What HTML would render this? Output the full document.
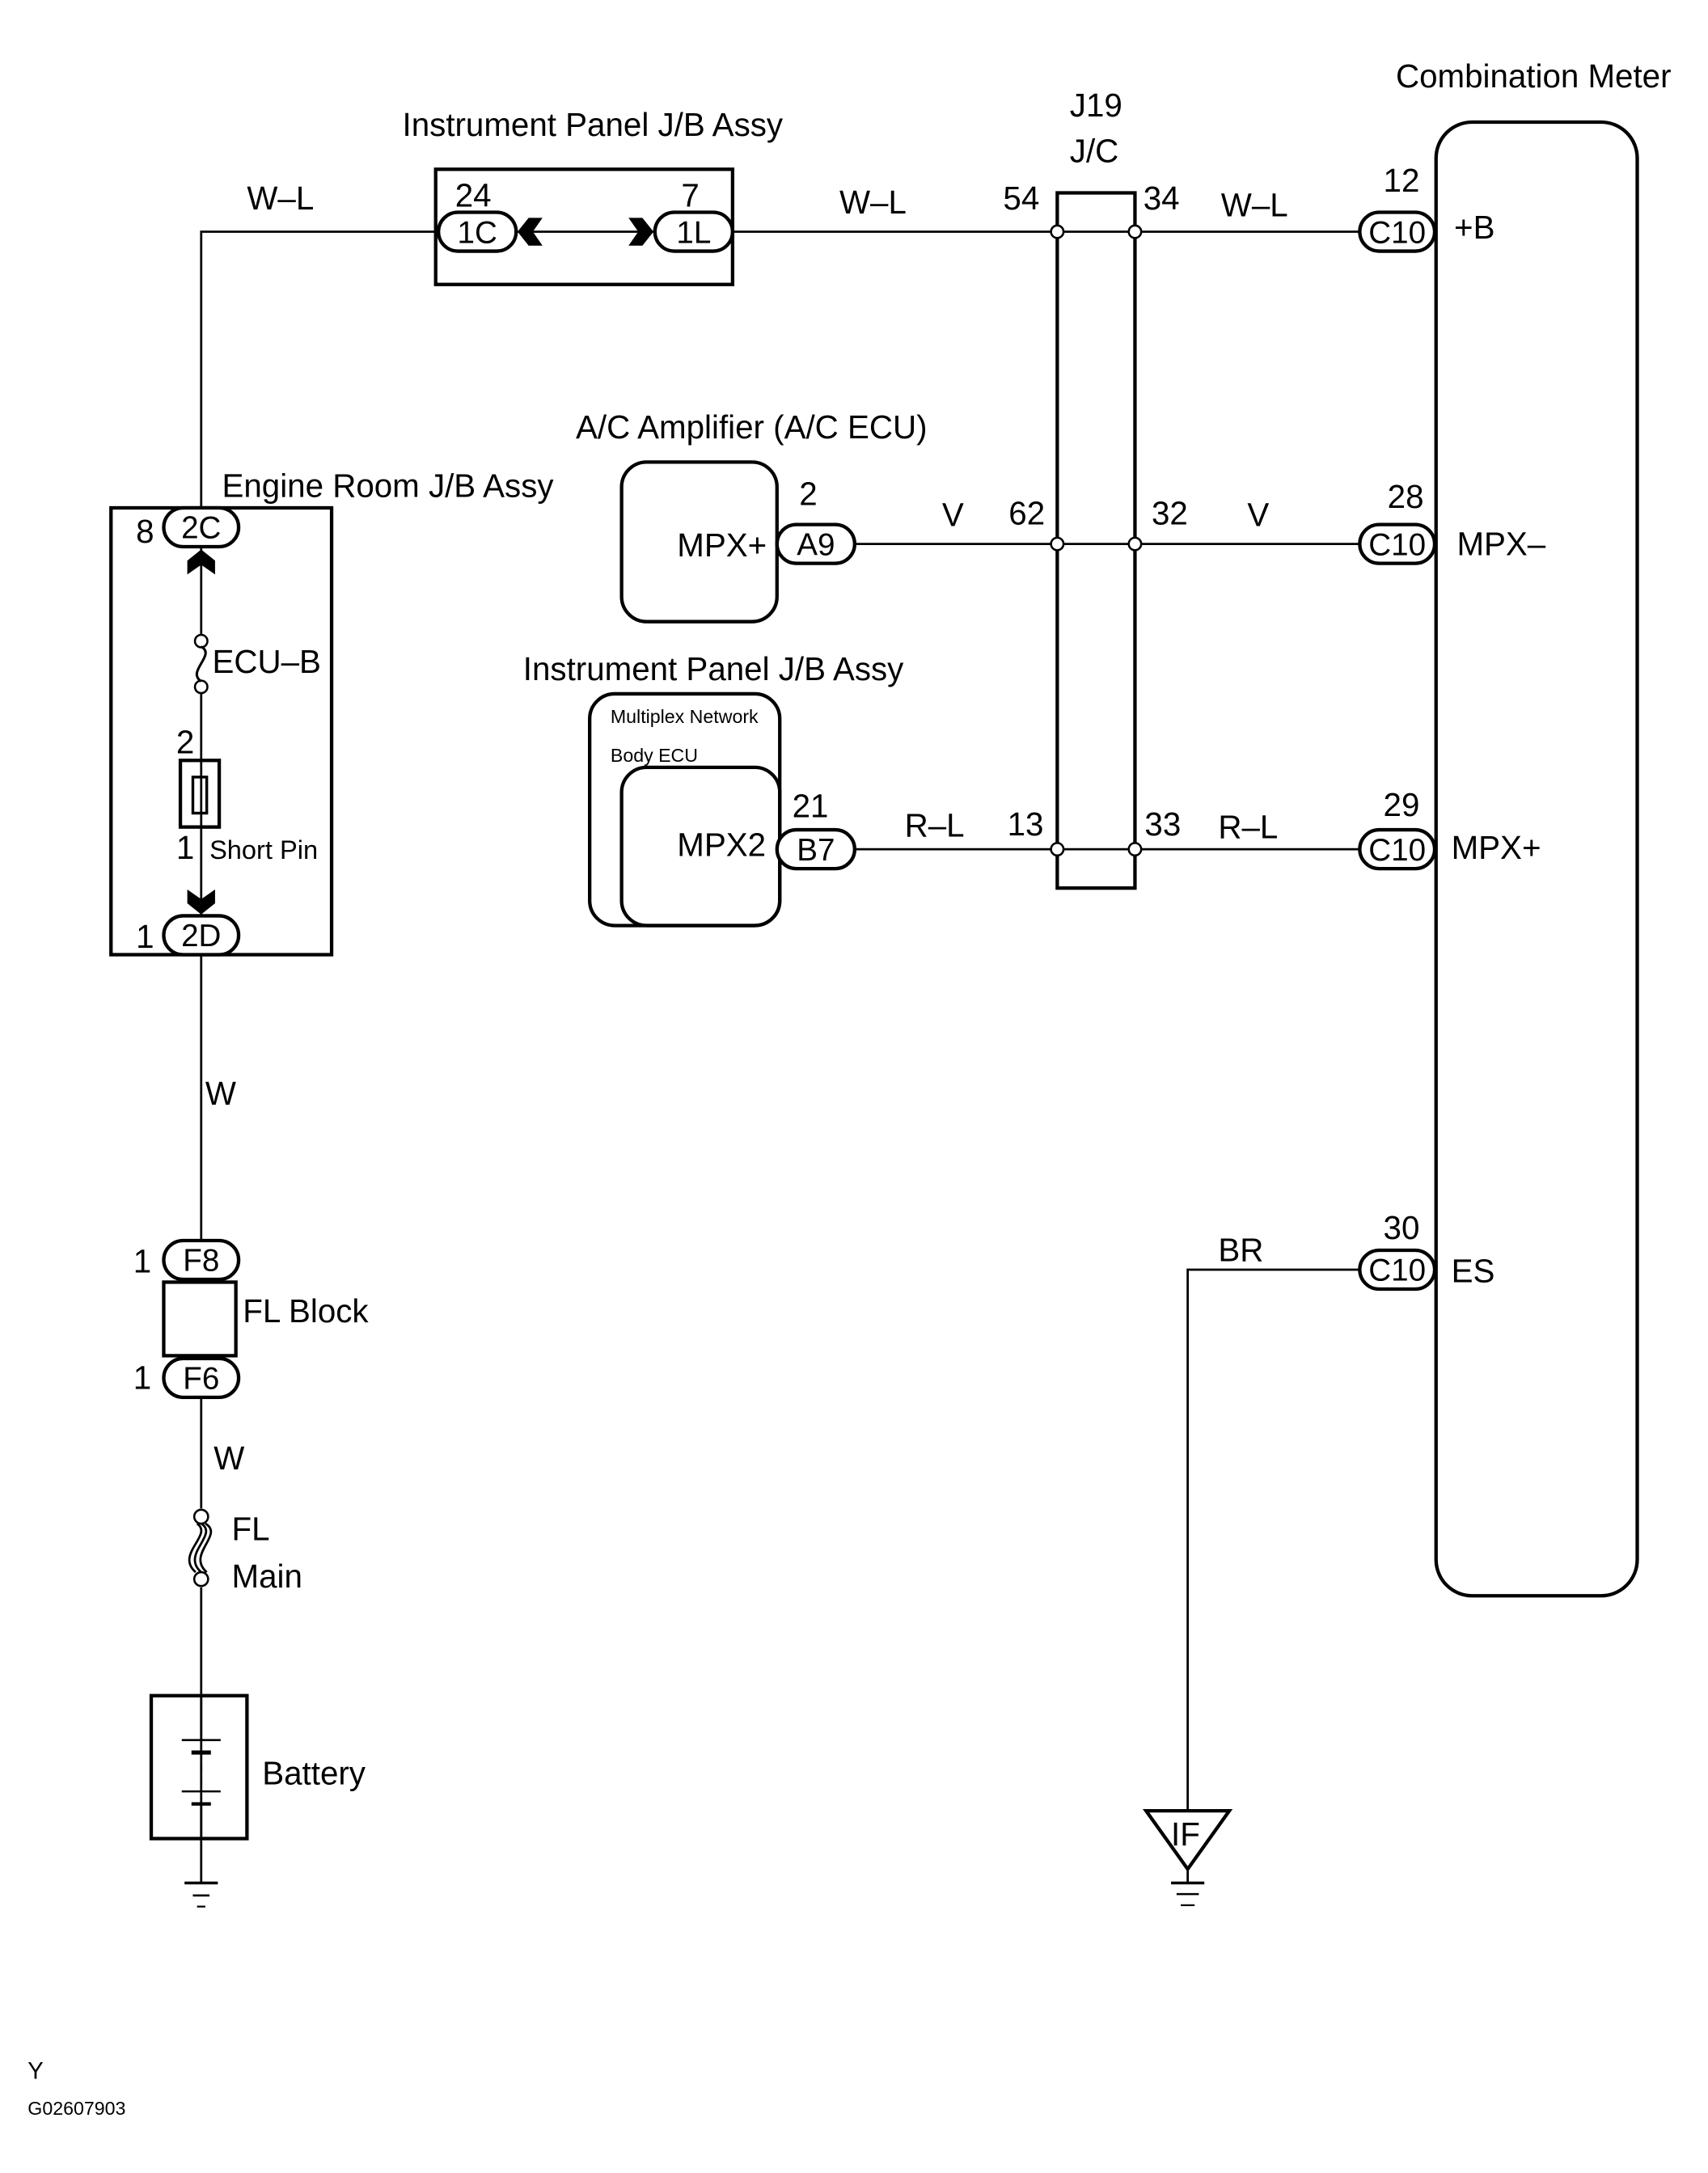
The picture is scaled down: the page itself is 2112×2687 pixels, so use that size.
<!DOCTYPE html>
<html><head><meta charset="utf-8"><style>
html,body{margin:0;padding:0;background:#fff}
svg{display:block}
text{font-family:"Liberation Sans",Arial,sans-serif;fill:#000}
</style></head><body>
<svg width="2112" height="2687" viewBox="0 0 1231 1566" preserveAspectRatio="none" xmlns="http://www.w3.org/2000/svg">
<g fill="none" stroke="#000" stroke-width="1.6">
<polyline points="316,167 145,167 145,366"/>
<line x1="145" y1="394" x2="145" y2="458"/>
<line x1="145" y1="497" x2="145" y2="660"/>
<line x1="145" y1="688" x2="145" y2="894"/>
<line x1="145" y1="1007" x2="145" y2="1087"/>
<line x1="145" y1="1144" x2="145" y2="1357"/>
<line x1="528" y1="167" x2="980" y2="167"/>
<line x1="372" y1="167" x2="472" y2="167"/>
<line x1="616" y1="392" x2="980" y2="392"/>
<line x1="616" y1="612" x2="980" y2="612"/>
<polyline points="980,915 856,915 856,1305"/>
<line x1="856" y1="1347" x2="856" y2="1357"/>
</g>
<g fill="none" stroke="#000" stroke-width="2.5">
<rect x="314" y="122" width="214" height="83"/>
<rect x="762" y="139" width="56" height="501"/>
<rect x="1035" y="88" width="145" height="1062" rx="26"/>
<rect x="80" y="366" width="159" height="322"/>
<rect x="448" y="333" width="112" height="115" rx="18"/>
<rect x="425" y="500" width="137" height="167" rx="18"/>
<rect x="448" y="553" width="114" height="114" rx="18"/>
<rect x="118" y="924" width="52" height="53"/>
<rect x="109" y="1222" width="69" height="103"/>
<rect x="130" y="548" width="28" height="48"/>
<rect x="139" y="560" width="10" height="26" stroke-width="2"/>
<polygon points="826,1305 886,1305 856,1347"/>
</g>
<g fill="#fff" stroke="#000" stroke-width="2.5">
<rect x="316" y="153" width="56" height="28" rx="14"/>
<rect x="472" y="153" width="56" height="28" rx="14"/>
<rect x="980" y="153" width="54" height="28" rx="14"/>
<rect x="980" y="378" width="54" height="28" rx="14"/>
<rect x="980" y="598" width="54" height="28" rx="14"/>
<rect x="980" y="901" width="54" height="28" rx="14"/>
<rect x="560" y="378" width="56" height="28" rx="14"/>
<rect x="560" y="598" width="56" height="28" rx="14"/>
<rect x="118" y="366" width="54" height="28" rx="14"/>
<rect x="118" y="660" width="54" height="28" rx="14"/>
<rect x="118" y="894" width="54" height="28" rx="14"/>
<rect x="118" y="979" width="54" height="28" rx="14"/>
</g>
<g fill="#fff" stroke="#000" stroke-width="1.5">
<circle cx="762" cy="167" r="4.5"/><circle cx="818" cy="167" r="4.5"/>
<circle cx="762" cy="392" r="4.5"/><circle cx="818" cy="392" r="4.5"/>
<circle cx="762" cy="612" r="4.5"/><circle cx="818" cy="612" r="4.5"/>
<circle cx="145" cy="462" r="4.5"/><circle cx="145" cy="495" r="4.5"/>
<circle cx="145" cy="1093" r="5"/><circle cx="145" cy="1138" r="5"/>
</g>
<path d="M145,466 C156,472 134,484 145,491" fill="none" stroke="#000" stroke-width="1.8"/>
<path d="M145,1098 C158,1106 130,1120 145,1133 M142,1098 C154,1106 126,1120 141,1133 M148,1098 C162,1106 134,1120 149,1133" fill="none" stroke="#000" stroke-width="1.6"/>
<g fill="#000">
<polygon points="373,167 381,157 391,157 384,167 391,177 381,177"/>
<polygon points="471,167 463,157 453,157 460,167 453,177 463,177"/>
<polygon points="145,396 135,404 135,414 145,407 155,414 155,404"/>
<polygon points="145,659 135,651 135,641 145,648 155,641 155,651"/>
</g>
<g stroke="#000" fill="none">
<line x1="145" y1="1222" x2="145" y2="1254" stroke-width="1.6"/>
<line x1="131" y1="1254" x2="159" y2="1254" stroke-width="1.5"/>
<line x1="138" y1="1263" x2="152" y2="1263" stroke-width="3"/>
<line x1="145" y1="1263" x2="145" y2="1290" stroke-width="1.5" stroke-dasharray="5,4"/>
<line x1="131" y1="1291" x2="159" y2="1291" stroke-width="1.5"/>
<line x1="138" y1="1300" x2="152" y2="1300" stroke-width="2.5"/>
<line x1="145" y1="1300" x2="145" y2="1325" stroke-width="1.6"/>
<line x1="133" y1="1357" x2="157" y2="1357" stroke-width="2"/>
<line x1="139" y1="1366" x2="151" y2="1366" stroke-width="1.5"/>
<line x1="142" y1="1374" x2="148" y2="1374" stroke-width="1.3"/>
<line x1="844" y1="1357" x2="868" y2="1357" stroke-width="2"/>
<line x1="848" y1="1365" x2="864" y2="1365" stroke-width="1.5"/>
<line x1="851" y1="1373" x2="861" y2="1373" stroke-width="1.3"/>
</g>
<g font-size="23.5">
<text x="290" y="98">Instrument Panel J/B Assy</text>
<text x="771" y="84">J19</text>
<text x="771" y="117">J/C</text>
<text x="1006" y="63">Combination Meter</text>
<text x="178" y="151">W–L</text>
<text x="605" y="154">W–L</text>
<text x="880" y="156">W–L</text>
<text x="328" y="149">24</text>
<text x="491" y="149">7</text>
<text x="723" y="151">54</text>
<text x="824" y="151">34</text>
<text x="997" y="138">12</text>
<text x="1048" y="172">+B</text>
<text x="415" y="316">A/C Amplifier (A/C ECU)</text>
<text x="160" y="358">Engine Room J/B Assy</text>
<text x="576" y="364">2</text>
<text x="488" y="401">MPX+</text>
<text x="679" y="379">V</text>
<text x="727" y="378">62</text>
<text x="830" y="378">32</text>
<text x="899" y="379">V</text>
<text x="1000" y="366">28</text>
<text x="1050" y="400">MPX–</text>
<text x="377" y="490">Instrument Panel J/B Assy</text>
<text x="571" y="589">21</text>
<text x="488" y="617">MPX2</text>
<text x="652" y="603">R–L</text>
<text x="726" y="602">13</text>
<text x="825" y="602">33</text>
<text x="878" y="604">R–L</text>
<text x="997" y="588">29</text>
<text x="1046" y="619">MPX+</text>
<text x="878" y="909">BR</text>
<text x="997" y="893">30</text>
<text x="1046" y="924">ES</text>
<text x="98" y="391">8</text>
<text x="153" y="485">ECU–B</text>
<text x="127" y="543">2</text>
<text x="127" y="619">1</text>
<text x="98" y="683">1</text>
<text x="148" y="796">W</text>
<text x="96" y="917">1</text>
<text x="175" y="953">FL Block</text>
<text x="96" y="1001">1</text>
<text x="154" y="1059">W</text>
<text x="167" y="1110">FL</text>
<text x="167" y="1144">Main</text>
<text x="189" y="1286">Battery</text>
<text x="844" y="1330">IF</text>
</g>
<text x="151" y="619" font-size="19">Short Pin</text>
<g font-size="22.5" text-anchor="middle">
<text x="344" y="175">1C</text><text x="500" y="175">1L</text>
<text x="1007" y="175">C10</text><text x="1007" y="400">C10</text>
<text x="1007" y="620">C10</text><text x="1007" y="923">C10</text>
<text x="588" y="400">A9</text><text x="588" y="620">B7</text>
<text x="145" y="388">2C</text><text x="145" y="682">2D</text>
<text x="145" y="916">F8</text><text x="145" y="1001">F6</text>
</g>
<text x="440" y="521" font-size="13.5">Multiplex Network</text>
<text x="440" y="549" font-size="13.5">Body ECU</text>
<text x="20" y="1498" font-size="17">Y</text>
<text x="20" y="1524" font-size="13.5">G02607903</text>
</svg>
</body></html>
